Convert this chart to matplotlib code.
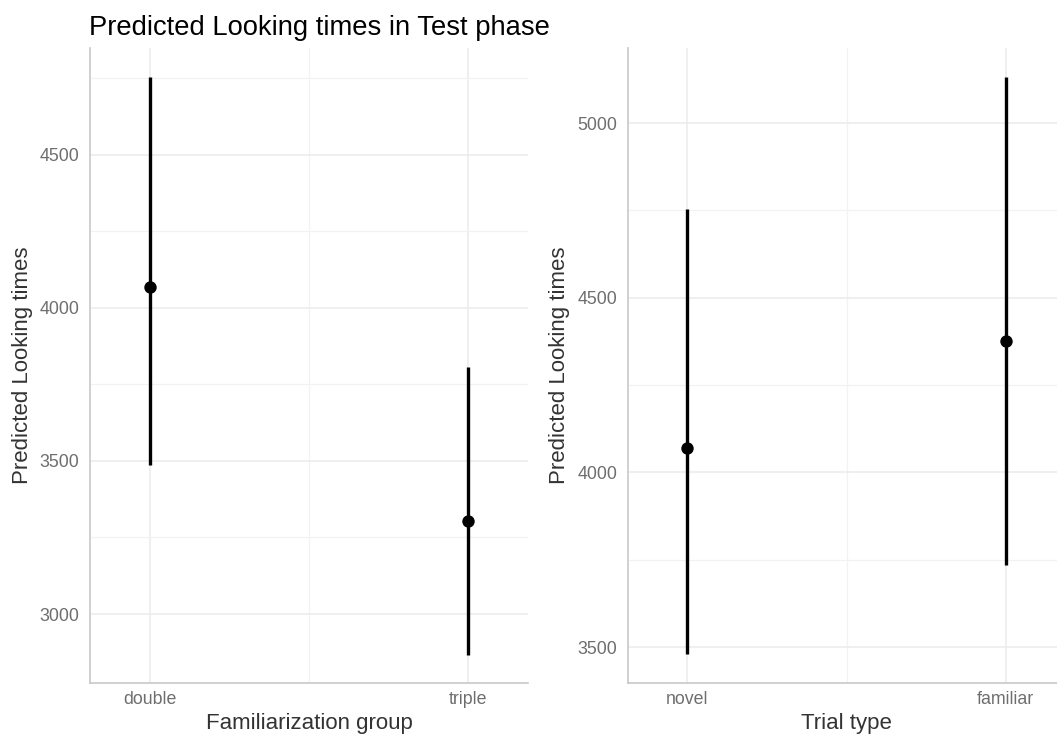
import matplotlib
matplotlib.use("Agg")
import matplotlib.pyplot as plt
from matplotlib.ticker import FixedLocator

plt.rcParams['font.family'] = ['Liberation Sans', 'DejaVu Sans']

# Data
groups = ["double", "triple"]
group_est = [4069, 3303]
group_low = [3486, 2868]
group_high = [4754, 3806]

trials = ["novel", "familiar"]
trial_est = [4069, 4377]
trial_low = [3481, 3735]
trial_high = [4755, 5132]

W, H = 1057, 737
fig = plt.figure(figsize=(W / 100, H / 100), dpi=100)

def px_axes(x0, x1, y0, y1):
    return fig.add_axes([x0 / W, 1 - y1 / H, (x1 - x0) / W, (y1 - y0) / H])

def style(ax, cats, est, low, high, ylim, major, minor, xlabel):
    x = list(range(len(cats)))
    ax.vlines(x, low, high, color="black", lw=2.4, zorder=3)
    ax.scatter(x, est, s=80, color="black", zorder=4, linewidths=0)
    ax.set_xlim(-0.187, len(cats) - 1 + 0.187)
    ax.set_ylim(*ylim)
    ax.set_xticks(x)
    ax.set_xticklabels(cats)
    ax.xaxis.set_minor_locator(FixedLocator([0.5]))
    ax.set_yticks(major)
    ax.yaxis.set_minor_locator(FixedLocator(minor))
    ax.grid(True, which="major", color="#EBEBEB", lw=1.1, zorder=0)
    ax.grid(True, which="minor", color="#F2F2F2", lw=0.9, zorder=0)
    ax.set_axisbelow(True)
    for s in ["top", "right"]:
        ax.spines[s].set_visible(False)
    for s in ["left", "bottom"]:
        ax.spines[s].set_color("#C8C8C8")
        ax.spines[s].set_linewidth(1.2)
    ax.tick_params(which="both", length=0, labelsize=12.8, labelcolor="#6E6E6E")
    ax.tick_params(axis="y", pad=7.5)
    ax.tick_params(axis="x", pad=6)
    ax.set_xlabel(xlabel, fontsize=16, color="#333333", labelpad=3)
    ax.set_ylabel("Predicted Looking times", fontsize=16, color="#333333", labelpad=5)

ax1 = px_axes(90, 528, 48, 683)
style(ax1, groups, group_est, group_low, group_high, (2775, 4848),
      [3000, 3500, 4000, 4500], [2750, 3250, 3750, 4250, 4750], "Familiarization group")

ax2 = px_axes(627.7, 1065.4, 48, 683)
style(ax2, trials, trial_est, trial_low, trial_high, (3397, 5215),
      [3500, 4000, 4500, 5000], [3750, 4250, 4750], "Trial type")

fig.text(89 / W, 1 - 35 / H, "Predicted Looking times in Test phase", fontsize=19.7,
         color="black", ha="left", va="baseline")

fig.savefig("out.png", dpi=100)
